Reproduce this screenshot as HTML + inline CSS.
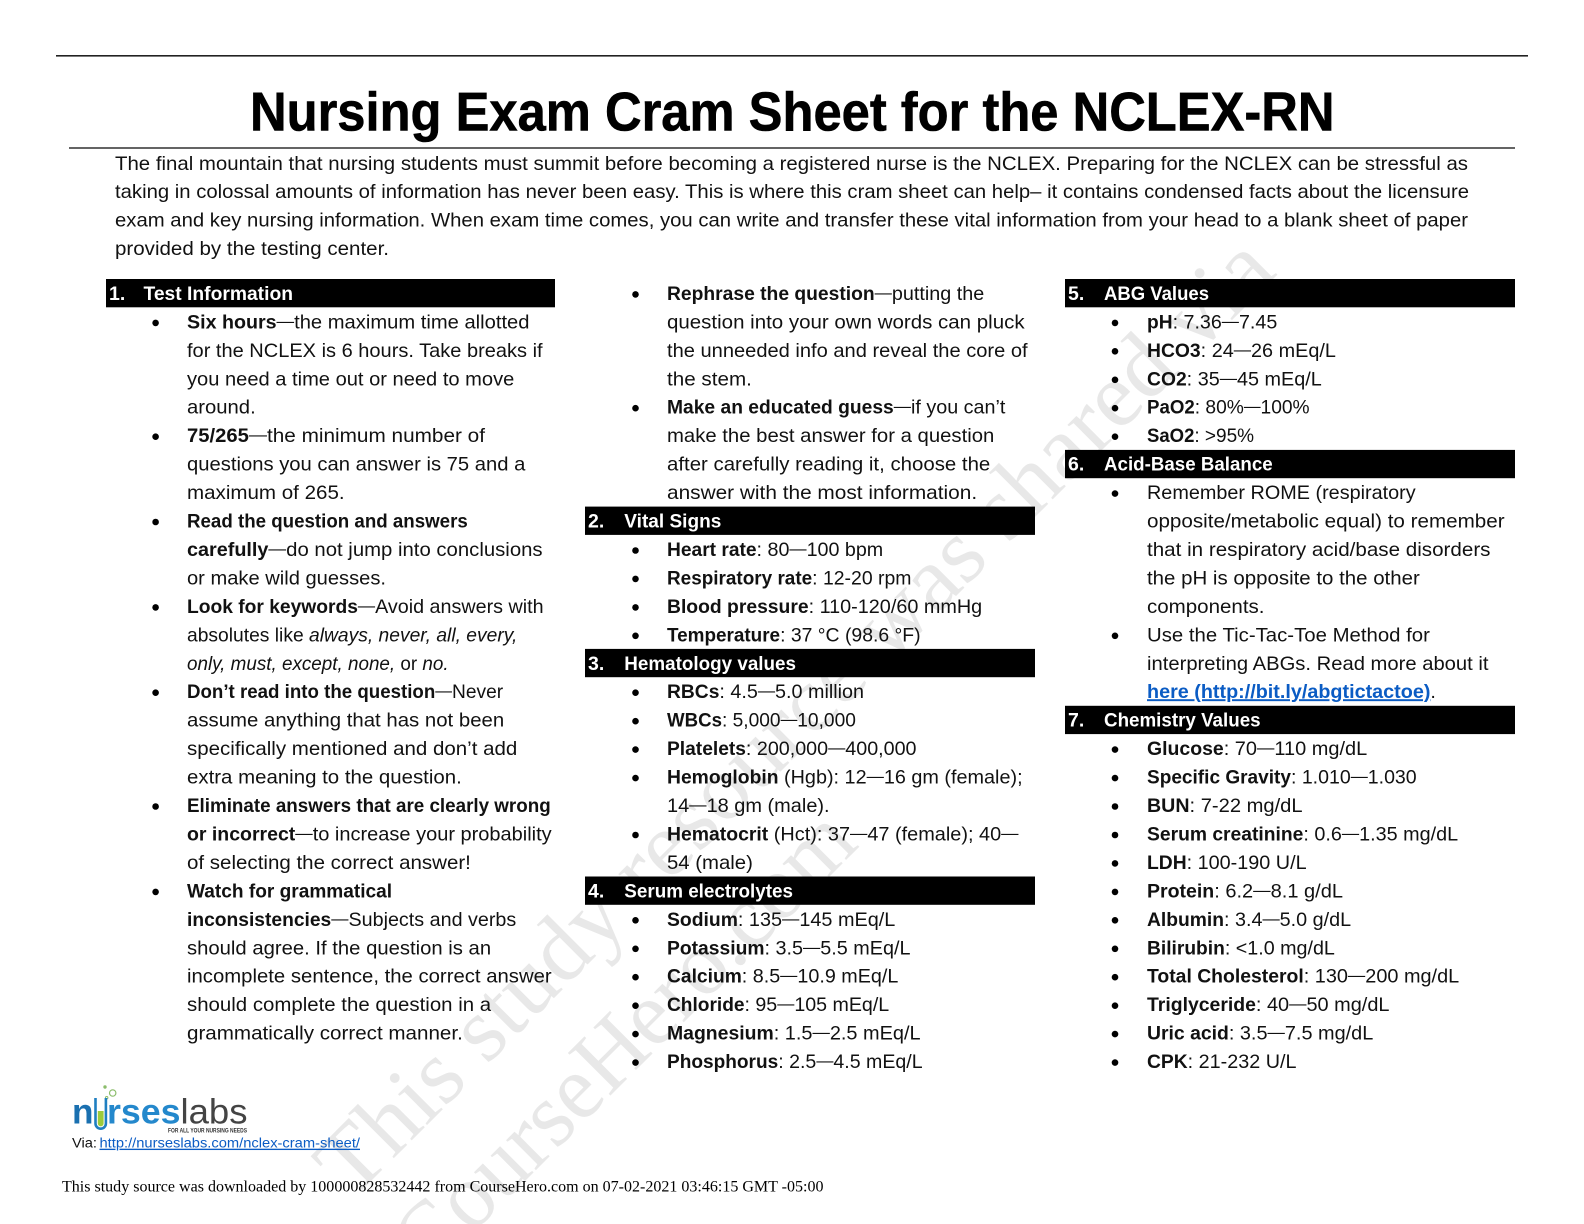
<!DOCTYPE html>
<html><head><meta charset="utf-8"><title>Nursing Exam Cram Sheet for the NCLEX-RN</title>
<style>
html,body{margin:0;padding:0;background:#fff;width:1584px;height:1224px;overflow:hidden}
svg{display:block;overflow:hidden}
text{font-family:"Liberation Sans",sans-serif;font-size:19.5px;fill:#111;white-space:pre}
.b{font-weight:bold;font-size:19px}
.d{font-size:17px;baseline-shift:2px}
.w{fill:#fff;font-weight:bold}
.wm{font-family:"Liberation Serif",serif;font-size:92px;fill:#e8e8e8}
</style></head><body>
<svg width="1584" height="1224" viewBox="0 0 1584 1224" xmlns="http://www.w3.org/2000/svg">
<rect width="1584" height="1224" fill="#fff"/>
<!-- watermark -->
<text class="wm" transform="translate(352 1200) rotate(-45)" textLength="1310" lengthAdjust="spacingAndGlyphs">This study resource was shared via</text>
<text class="wm" transform="translate(429 1277) rotate(-45)" textLength="610" lengthAdjust="spacingAndGlyphs">CourseHero.com</text>
<!-- header -->
<rect x="56" y="55" width="1472" height="1.6" fill="#222"/>
<text x="250" y="130.7" textLength="1084.5" lengthAdjust="spacingAndGlyphs" style="font-size:55px;font-weight:bold;fill:#000;stroke:#000;stroke-width:.6">Nursing Exam Cram Sheet for the NCLEX-RN</text>
<rect x="69" y="147.3" width="1446" height="1.4" fill="#222"/>
<text x="115" y="170" textLength="1353" lengthAdjust="spacingAndGlyphs">The final mountain that nursing students must summit before becoming a registered nurse is the NCLEX. Preparing for the NCLEX can be stressful as</text>
<text x="115" y="198" textLength="1354" lengthAdjust="spacingAndGlyphs">taking in colossal amounts of information has never been easy. This is where this cram sheet can help– it contains condensed facts about the licensure</text>
<text x="115" y="226.7" textLength="1353" lengthAdjust="spacingAndGlyphs">exam and key nursing information. When exam time comes, you can write and transfer these vital information from your head to a blank sheet of paper</text>
<text x="115" y="255" textLength="274" lengthAdjust="spacingAndGlyphs">provided by the testing center.</text>
<!-- bars -->
<g fill="#000">
<rect x="106" y="279" width="449" height="28.3"/>
<rect x="585" y="506.6" width="450" height="28.3"/>
<rect x="585" y="648.9" width="450" height="28.3"/>
<rect x="585" y="876.5" width="450" height="28.3"/>
<rect x="1065" y="279" width="450" height="28.3"/>
<rect x="1065" y="449.9" width="450" height="28.3"/>
<rect x="1065" y="705.8" width="450" height="28.3"/>
</g>
<g transform="translate(0 .4)">
<text class="w" x="109" y="299.5">1.</text><text class="w" x="143.5" y="299.5" textLength="149.5" lengthAdjust="spacingAndGlyphs">Test Information</text>
<text class="w" x="588" y="527.1">2.</text><text class="w" x="624.3" y="527.1" textLength="97" lengthAdjust="spacingAndGlyphs">Vital Signs</text>
<text class="w" x="588" y="669.4">3.</text><text class="w" x="624.3" y="669.4" textLength="171.7" lengthAdjust="spacingAndGlyphs">Hematology values</text>
<text class="w" x="588" y="897">4.</text><text class="w" x="624.3" y="897" textLength="168.7" lengthAdjust="spacingAndGlyphs">Serum electrolytes</text>
<text class="w" x="1068" y="299.5">5.</text><text class="w" x="1104" y="299.5" textLength="105" lengthAdjust="spacingAndGlyphs">ABG Values</text>
<text class="w" x="1068" y="470.2">6.</text><text class="w" x="1104" y="470.2" textLength="168.7" lengthAdjust="spacingAndGlyphs">Acid-Base Balance</text>
<text class="w" x="1068" y="726.3">7.</text><text class="w" x="1104" y="726.3" textLength="156.6" lengthAdjust="spacingAndGlyphs">Chemistry Values</text>
<!-- bullets -->
<g fill="#000">
<circle cx="155.6" cy="322.5" r="3.3"/><circle cx="155.6" cy="436.3" r="3.3"/><circle cx="155.6" cy="521.6" r="3.3"/><circle cx="155.6" cy="607" r="3.3"/><circle cx="155.6" cy="692.3" r="3.3"/><circle cx="155.6" cy="806.1" r="3.3"/><circle cx="155.6" cy="891.5" r="3.3"/>
<circle cx="635.5" cy="294" r="3.3"/><circle cx="635.5" cy="407.8" r="3.3"/><circle cx="635.5" cy="550.1" r="3.3"/><circle cx="635.5" cy="578.5" r="3.3"/><circle cx="635.5" cy="607" r="3.3"/><circle cx="635.5" cy="635.4" r="3.3"/><circle cx="635.5" cy="692.3" r="3.3"/><circle cx="635.5" cy="720.8" r="3.3"/><circle cx="635.5" cy="749.2" r="3.3"/><circle cx="635.5" cy="777.7" r="3.3"/><circle cx="635.5" cy="834.6" r="3.3"/><circle cx="635.5" cy="919.9" r="3.3"/><circle cx="635.5" cy="948.4" r="3.3"/><circle cx="635.5" cy="976.8" r="3.3"/><circle cx="635.5" cy="1005.3" r="3.3"/><circle cx="635.5" cy="1033.7" r="3.3"/><circle cx="635.5" cy="1062.2" r="3.3"/>
<circle cx="1115" cy="322.5" r="3.3"/><circle cx="1115" cy="350.9" r="3.3"/><circle cx="1115" cy="379.4" r="3.3"/><circle cx="1115" cy="407.8" r="3.3"/><circle cx="1115" cy="436.3" r="3.3"/><circle cx="1115" cy="493.2" r="3.3"/><circle cx="1115" cy="635.4" r="3.3"/><circle cx="1115" cy="749.2" r="3.3"/><circle cx="1115" cy="777.7" r="3.3"/><circle cx="1115" cy="806.1" r="3.3"/><circle cx="1115" cy="834.6" r="3.3"/><circle cx="1115" cy="863" r="3.3"/><circle cx="1115" cy="891.5" r="3.3"/><circle cx="1115" cy="919.9" r="3.3"/><circle cx="1115" cy="948.4" r="3.3"/><circle cx="1115" cy="976.8" r="3.3"/><circle cx="1115" cy="1005.3" r="3.3"/><circle cx="1115" cy="1033.7" r="3.3"/><circle cx="1115" cy="1062.2" r="3.3"/>
</g>
<!-- column 1 -->
<text x="187" y="328" textLength="342.5" lengthAdjust="spacingAndGlyphs"><tspan class="b">Six hours</tspan><tspan class="d">—</tspan>the maximum time allotted</text>
<text x="187" y="356.4" textLength="355.6" lengthAdjust="spacingAndGlyphs">for the NCLEX is 6 hours. Take breaks if</text>
<text x="187" y="384.9" textLength="327.3" lengthAdjust="spacingAndGlyphs">you need a time out or need to move</text>
<text x="187" y="413.3" textLength="68.7" lengthAdjust="spacingAndGlyphs">around.</text>
<text x="187" y="441.8" textLength="298" lengthAdjust="spacingAndGlyphs"><tspan class="b">75/265</tspan><tspan class="d">—</tspan>the minimum number of</text>
<text x="187" y="470.2" textLength="338.4" lengthAdjust="spacingAndGlyphs">questions you can answer is 75 and a</text>
<text x="187" y="498.7" textLength="157.6" lengthAdjust="spacingAndGlyphs">maximum of 265.</text>
<text x="187" y="527.1" textLength="280.8" lengthAdjust="spacingAndGlyphs" class="b">Read the question and answers</text>
<text x="187" y="555.6" textLength="355.6" lengthAdjust="spacingAndGlyphs"><tspan class="b">carefully</tspan><tspan class="d">—</tspan>do not jump into conclusions</text>
<text x="187" y="584" textLength="199" lengthAdjust="spacingAndGlyphs">or make wild guesses.</text>
<text x="187" y="612.5" textLength="356.6" lengthAdjust="spacingAndGlyphs"><tspan class="b">Look for keywords</tspan><tspan class="d">—</tspan>Avoid answers with</text>
<text x="187" y="640.9" textLength="330.3" lengthAdjust="spacingAndGlyphs">absolutes like <tspan font-style="italic">always, never, all, every,</tspan></text>
<text x="187" y="669.4" textLength="261.6" lengthAdjust="spacingAndGlyphs"><tspan font-style="italic">only, must, except, none,</tspan> or <tspan font-style="italic">no.</tspan></text>
<text x="187" y="697.8" textLength="316.2" lengthAdjust="spacingAndGlyphs"><tspan class="b">Don’t read into the question</tspan><tspan class="d">—</tspan>Never</text>
<text x="187" y="726.3" textLength="317.2" lengthAdjust="spacingAndGlyphs">assume anything that has not been</text>
<text x="187" y="754.7" textLength="330.3" lengthAdjust="spacingAndGlyphs">specifically mentioned and don’t add</text>
<text x="187" y="783.2" textLength="274.8" lengthAdjust="spacingAndGlyphs">extra meaning to the question.</text>
<text x="187" y="811.6" textLength="363.7" lengthAdjust="spacingAndGlyphs" class="b">Eliminate answers that are clearly wrong</text>
<text x="187" y="840.1" textLength="364.7" lengthAdjust="spacingAndGlyphs"><tspan class="b">or incorrect</tspan><tspan class="d">—</tspan>to increase your probability</text>
<text x="187" y="868.5" textLength="283.9" lengthAdjust="spacingAndGlyphs">of selecting the correct answer!</text>
<text x="187" y="897" textLength="205.1" lengthAdjust="spacingAndGlyphs" class="b">Watch for grammatical</text>
<text x="187" y="925.4" textLength="329.3" lengthAdjust="spacingAndGlyphs"><tspan class="b">inconsistencies</tspan><tspan class="d">—</tspan>Subjects and verbs</text>
<text x="187" y="953.9" textLength="304.1" lengthAdjust="spacingAndGlyphs">should agree. If the question is an</text>
<text x="187" y="982.3" textLength="364.7" lengthAdjust="spacingAndGlyphs">incomplete sentence, the correct answer</text>
<text x="187" y="1010.8" textLength="304.1" lengthAdjust="spacingAndGlyphs">should complete the question in a</text>
<text x="187" y="1039.2" textLength="275.8" lengthAdjust="spacingAndGlyphs">grammatically correct manner.</text>
<!-- column 2 -->
<text x="667" y="299.5" textLength="317.2" lengthAdjust="spacingAndGlyphs"><tspan class="b">Rephrase the question</tspan><tspan class="d">—</tspan>putting the</text>
<text x="667" y="328" textLength="357.6" lengthAdjust="spacingAndGlyphs">question into your own words can pluck</text>
<text x="667" y="356.4" textLength="360.6" lengthAdjust="spacingAndGlyphs">the unneeded info and reveal the core of</text>
<text x="667" y="384.9" textLength="84.9" lengthAdjust="spacingAndGlyphs">the stem.</text>
<text x="667" y="413.3" textLength="338.4" lengthAdjust="spacingAndGlyphs"><tspan class="b">Make an educated guess</tspan><tspan class="d">—</tspan>if you can’t</text>
<text x="667" y="441.8" textLength="327.3" lengthAdjust="spacingAndGlyphs">make the best answer for a question</text>
<text x="667" y="470.2" textLength="323.3" lengthAdjust="spacingAndGlyphs">after carefully reading it, choose the</text>
<text x="667" y="498.7" textLength="310.1" lengthAdjust="spacingAndGlyphs">answer with the most information.</text>
<text x="667" y="555.6" textLength="216.2" lengthAdjust="spacingAndGlyphs"><tspan class="b">Heart rate</tspan>: 80<tspan class="d">—</tspan>100 bpm</text>
<text x="667" y="584" textLength="244.5" lengthAdjust="spacingAndGlyphs"><tspan class="b">Respiratory rate</tspan>: 12-20 rpm</text>
<text x="667" y="612.5" textLength="315.2" lengthAdjust="spacingAndGlyphs"><tspan class="b">Blood pressure</tspan>: 110-120/60 mmHg</text>
<text x="667" y="640.9" textLength="253.6" lengthAdjust="spacingAndGlyphs"><tspan class="b">Temperature</tspan>: 37 °C (98.6 °F)</text>
<text x="667" y="697.8" textLength="197" lengthAdjust="spacingAndGlyphs"><tspan class="b">RBCs</tspan>: 4.5<tspan class="d">—</tspan>5.0 million</text>
<text x="667" y="726.3" textLength="188.9" lengthAdjust="spacingAndGlyphs"><tspan class="b">WBCs</tspan>: 5,000<tspan class="d">—</tspan>10,000</text>
<text x="667" y="754.7" textLength="249.5" lengthAdjust="spacingAndGlyphs"><tspan class="b">Platelets</tspan>: 200,000<tspan class="d">—</tspan>400,000</text>
<text x="667" y="783.2" textLength="355.6" lengthAdjust="spacingAndGlyphs"><tspan class="b">Hemoglobin</tspan> (Hgb): 12<tspan class="d">—</tspan>16 gm (female);</text>
<text x="667" y="811.6" textLength="162.6" lengthAdjust="spacingAndGlyphs">14<tspan class="d">—</tspan>18 gm (male).</text>
<text x="667" y="840.1" textLength="351.5" lengthAdjust="spacingAndGlyphs"><tspan class="b">Hematocrit</tspan> (Hct): 37<tspan class="d">—</tspan>47 (female); 40<tspan class="d">—</tspan></text>
<text x="667" y="868.5" textLength="85.9" lengthAdjust="spacingAndGlyphs">54 (male)</text>
<text x="667" y="925.4" textLength="228.3" lengthAdjust="spacingAndGlyphs"><tspan class="b">Sodium</tspan>: 135<tspan class="d">—</tspan>145 mEq/L</text>
<text x="667" y="953.9" textLength="243.5" lengthAdjust="spacingAndGlyphs"><tspan class="b">Potassium</tspan>: 3.5<tspan class="d">—</tspan>5.5 mEq/L</text>
<text x="667" y="982.3" textLength="231.3" lengthAdjust="spacingAndGlyphs"><tspan class="b">Calcium</tspan>: 8.5<tspan class="d">—</tspan>10.9 mEq/L</text>
<text x="667" y="1010.8" textLength="222.2" lengthAdjust="spacingAndGlyphs"><tspan class="b">Chloride</tspan>: 95<tspan class="d">—</tspan>105 mEq/L</text>
<text x="667" y="1039.2" textLength="253.6" lengthAdjust="spacingAndGlyphs"><tspan class="b">Magnesium</tspan>: 1.5<tspan class="d">—</tspan>2.5 mEq/L</text>
<text x="667" y="1067.7" textLength="255.6" lengthAdjust="spacingAndGlyphs"><tspan class="b">Phosphorus</tspan>: 2.5<tspan class="d">—</tspan>4.5 mEq/L</text>
<!-- column 3 -->
<text x="1147" y="328" textLength="130.3" lengthAdjust="spacingAndGlyphs"><tspan class="b">pH</tspan>: 7.36<tspan class="d">—</tspan>7.45</text>
<text x="1147" y="356.4" textLength="188.9" lengthAdjust="spacingAndGlyphs"><tspan class="b">HCO3</tspan>: 24<tspan class="d">—</tspan>26 mEq/L</text>
<text x="1147" y="384.9" textLength="174.8" lengthAdjust="spacingAndGlyphs"><tspan class="b">CO2</tspan>: 35<tspan class="d">—</tspan>45 mEq/L</text>
<text x="1147" y="413.3" textLength="162.6" lengthAdjust="spacingAndGlyphs"><tspan class="b">PaO2</tspan>: 80%<tspan class="d">—</tspan>100%</text>
<text x="1147" y="441.8" textLength="107.1" lengthAdjust="spacingAndGlyphs"><tspan class="b">SaO2</tspan>: &gt;95%</text>
<text x="1147" y="498.7" textLength="268.7" lengthAdjust="spacingAndGlyphs">Remember ROME (respiratory</text>
<text x="1147" y="527.1" textLength="357.6" lengthAdjust="spacingAndGlyphs">opposite/metabolic equal) to remember</text>
<text x="1147" y="555.6" textLength="343.5" lengthAdjust="spacingAndGlyphs">that in respiratory acid/base disorders</text>
<text x="1147" y="584" textLength="272.8" lengthAdjust="spacingAndGlyphs">the pH is opposite to the other</text>
<text x="1147" y="612.5" textLength="117.5" lengthAdjust="spacingAndGlyphs">components.</text>
<text x="1147" y="640.9" textLength="282.9" lengthAdjust="spacingAndGlyphs">Use the Tic-Tac-Toe Method for</text>
<text x="1147" y="669.4" textLength="341.5" lengthAdjust="spacingAndGlyphs">interpreting ABGs. Read more about it</text>
<text x="1147" y="697.8" textLength="288.9" lengthAdjust="spacingAndGlyphs"><tspan class="b" style="fill:#0b5cc4;text-decoration:underline;font-size:19.5px">here (http://bit.ly/abgtictactoe)</tspan>.</text>
<text x="1147" y="754.7" textLength="220.2" lengthAdjust="spacingAndGlyphs"><tspan class="b">Glucose</tspan>: 70<tspan class="d">—</tspan>110 mg/dL</text>
<text x="1147" y="783.2" textLength="269.7" lengthAdjust="spacingAndGlyphs"><tspan class="b">Specific Gravity</tspan>: 1.010<tspan class="d">—</tspan>1.030</text>
<text x="1147" y="811.6" textLength="155.6" lengthAdjust="spacingAndGlyphs"><tspan class="b">BUN</tspan>: 7-22 mg/dL</text>
<text x="1147" y="840.1" textLength="311.1" lengthAdjust="spacingAndGlyphs"><tspan class="b">Serum creatinine</tspan>: 0.6<tspan class="d">—</tspan>1.35 mg/dL</text>
<text x="1147" y="868.5" textLength="159.6" lengthAdjust="spacingAndGlyphs"><tspan class="b">LDH</tspan>: 100-190 U/L</text>
<text x="1147" y="897" textLength="196" lengthAdjust="spacingAndGlyphs"><tspan class="b">Protein</tspan>: 6.2<tspan class="d">—</tspan>8.1 g/dL</text>
<text x="1147" y="925.4" textLength="204.1" lengthAdjust="spacingAndGlyphs"><tspan class="b">Albumin</tspan>: 3.4<tspan class="d">—</tspan>5.0 g/dL</text>
<text x="1147" y="953.9" textLength="187.9" lengthAdjust="spacingAndGlyphs"><tspan class="b">Bilirubin</tspan>: &lt;1.0 mg/dL</text>
<text x="1147" y="982.3" textLength="312.2" lengthAdjust="spacingAndGlyphs"><tspan class="b">Total Cholesterol</tspan>: 130<tspan class="d">—</tspan>200 mg/dL</text>
<text x="1147" y="1010.8" textLength="242.5" lengthAdjust="spacingAndGlyphs"><tspan class="b">Triglyceride</tspan>: 40<tspan class="d">—</tspan>50 mg/dL</text>
<text x="1147" y="1039.2" textLength="226.3" lengthAdjust="spacingAndGlyphs"><tspan class="b">Uric acid</tspan>: 3.5<tspan class="d">—</tspan>7.5 mg/dL</text>
<text x="1147" y="1067.7" textLength="149.5" lengthAdjust="spacingAndGlyphs"><tspan class="b">CPK</tspan>: 21-232 U/L</text>
</g>
<!-- logo -->
<circle cx="105" cy="1087" r="1.7" fill="#8bbd6b"/>
<circle cx="112.7" cy="1093" r="3.2" fill="none" stroke="#8bbd6b" stroke-width="1.2"/>
<circle cx="106.7" cy="1097.7" r="1.2" fill="none" stroke="#8bbd6b" stroke-width="1"/>
<text x="72" y="1123.3" textLength="21.5" lengthAdjust="spacingAndGlyphs" style="font-size:35px;font-weight:bold;fill:#1a70b0">n</text>
<path d="M95.5 1098 V1123.5 a5.2 5.2 0 0 0 10.4 0 V1098" fill="none" stroke="#1f7fc1" stroke-width="2.6"/>
<path d="M97.8 1111 H103.6 V1123.5 a2.9 2.9 0 0 1 -5.8 0 Z" fill="#9ccb3b"/>
<text x="107" y="1123.3" textLength="73.5" lengthAdjust="spacingAndGlyphs" style="font-size:35px;font-weight:bold;fill:#2488cc">rses</text>
<text x="180.5" y="1123.3" textLength="67" lengthAdjust="spacingAndGlyphs" style="font-size:35px;fill:#444">labs</text>
<text x="168" y="1132.7" textLength="79" lengthAdjust="spacingAndGlyphs" style="font-size:6.5px;font-weight:bold;fill:#333">FOR ALL YOUR NURSING NEEDS</text>
<!-- via -->
<text x="72" y="1147.7" textLength="25" lengthAdjust="spacingAndGlyphs" style="font-size:13.5px">Via:</text>
<text x="99.5" y="1147.7" textLength="260.5" lengthAdjust="spacingAndGlyphs" style="font-size:13.5px;fill:#0b5cc4;text-decoration:underline">http://nurseslabs.com/nclex-cram-sheet/</text>
<!-- footer -->
<text x="62" y="1191.5" textLength="761.5" lengthAdjust="spacingAndGlyphs" style="font-family:'Liberation Serif',serif;font-size:15.4px;fill:#000">This study source was downloaded by 100000828532442 from CourseHero.com on 07-02-2021 03:46:15 GMT -05:00</text>
</svg>
</body></html>
